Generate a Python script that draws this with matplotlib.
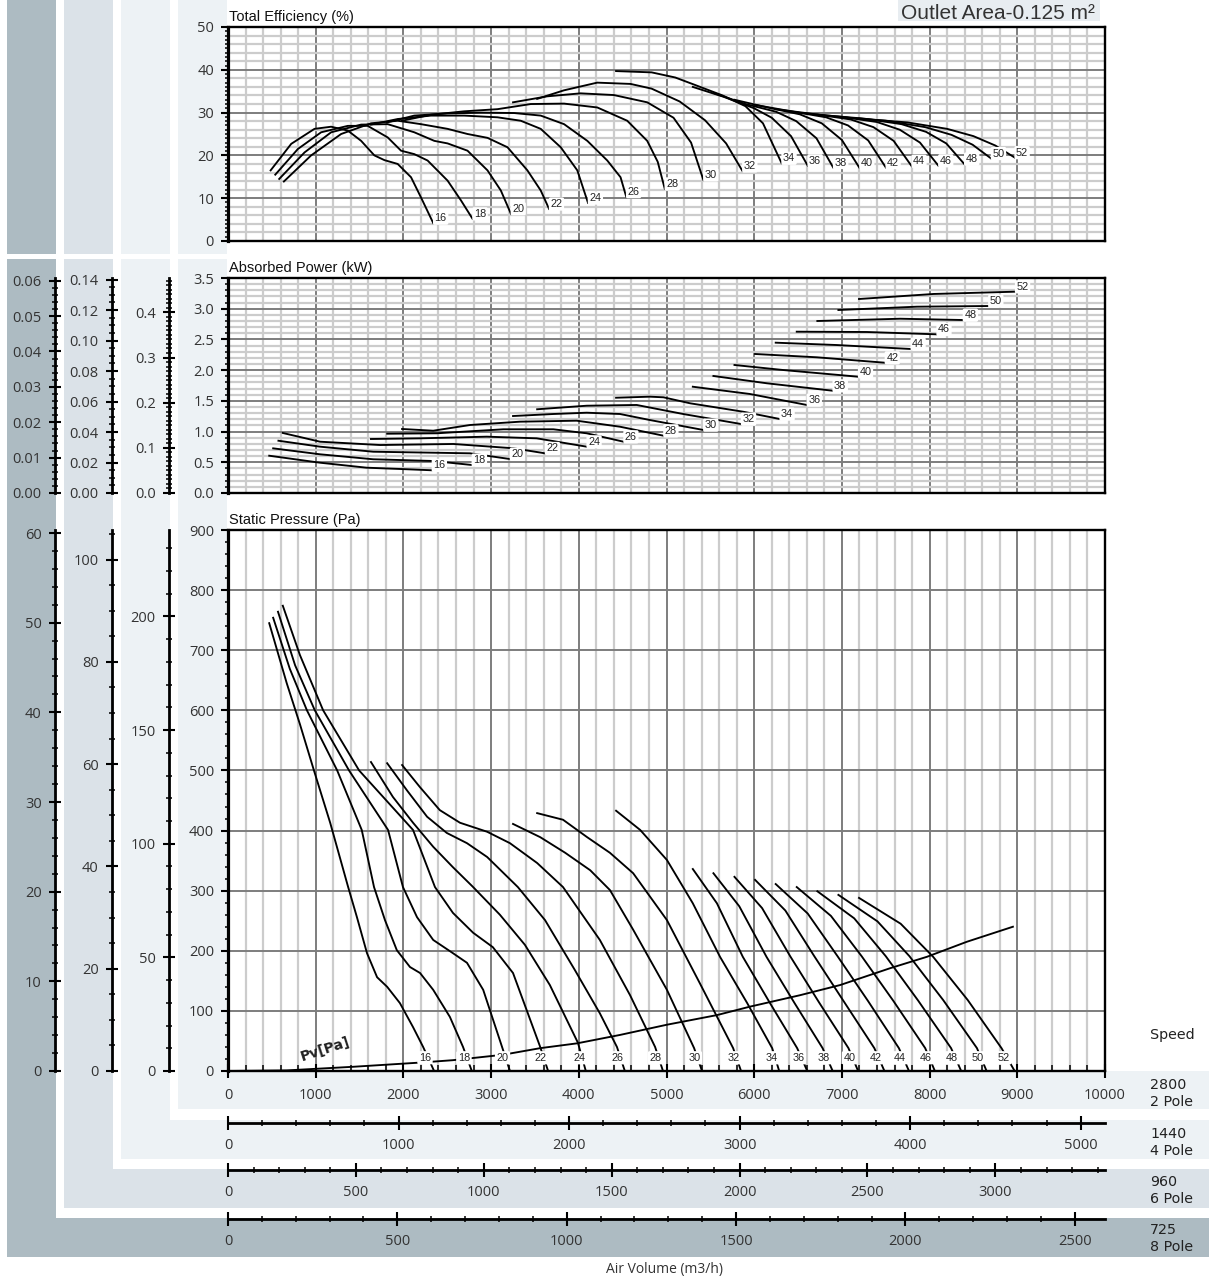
import numpy as np
import matplotlib.pyplot as plt
from matplotlib.patches import Rectangle
from matplotlib.ticker import MultipleLocator, FormatStrFormatter

# blade angle of every curve
angles = [16, 18, 20, 22, 24, 26, 28, 30, 32, 34, 36, 38, 40, 42, 44, 46, 48, 50, 52]

# Total efficiency (%) -- (air volume m3/h @ 2800 rpm, efficiency)
eff_16 = [(486, 16.5), (721, 22.7), (986, 26.2), (1176, 26.7), (1366, 25.8), (1518, 23.4), (1669, 20.0),
          (1783, 18.9), (1935, 18.0), (2087, 14.9), (2200, 10.2), (2340, 4.2)]
eff_18 = [(539, 15.5), (797, 21.5), (1062, 25.4), (1366, 26.9), (1593, 26.9), (1821, 24.2), (1973, 21.1),
          (2124, 20.3), (2276, 18.8), (2504, 14.1), (2656, 9.5), (2788, 5.2)]
eff_20 = [(584, 14.5), (873, 20.7), (1176, 25.4), (1518, 27.2), (1821, 27.3), (2124, 25.4), (2352, 23.4),
          (2504, 22.8), (2731, 21.1), (2959, 16.5), (3111, 11.8), (3225, 6.4)]
eff_22 = [(637, 13.9), (948, 20.0), (1290, 25.0), (1631, 27.5), (1935, 28.1), (2200, 27.3), (2504, 26.2),
          (2731, 25.0), (2959, 24.1), (3187, 21.9), (3414, 16.5), (3566, 11.8), (3661, 7.5)]
eff_24 = [(1631, 27.2), (1935, 28.5), (2314, 29.3), (2693, 29.3), (3073, 28.9), (3338, 28.1), (3566, 26.2),
          (3794, 21.9), (3983, 16.5), (4105, 8.9)]
eff_26 = [(1813, 27.7), (2124, 29.3), (2504, 29.8), (2883, 30.0), (3262, 29.9), (3566, 29.3), (3832, 27.3),
          (4097, 23.4), (4325, 18.8), (4476, 14.9), (4540, 10.4)]
eff_28 = [(1984, 28.1), (2314, 29.5), (2693, 30.3), (3073, 30.8), (3452, 32.0), (3832, 32.1), (4211, 31.2),
          (4552, 28.1), (4780, 23.4), (4900, 18.5), (4980, 12.2)]
eff_30 = [(3250, 32.4), (3640, 33.8), (4020, 34.5), (4400, 34.1), (4780, 32.4), (5080, 28.8), (5280, 23.0),
          (5420, 14.3)]
eff_32 = [(3525, 33.2), (3830, 35.2), (4210, 37.0), (4590, 36.7), (4830, 35.6), (5150, 32.6), (5440, 28.2),
          (5680, 22.8), (5865, 16.4)]
eff_34 = [(4425, 39.7), (4830, 39.4), (5100, 38.2), (5320, 36.5), (5640, 34.0), (5900, 31.5), (6100, 27.5),
          (6312, 18.2)]
eff_36 = [(5300, 36.0), (5650, 33.7), (6000, 31.0), (6200, 28.8), (6420, 24.5), (6610, 17.6)]
eff_38 = [(5535, 34.6), (5900, 32.0), (6250, 30.2), (6480, 28.0), (6710, 24.0), (6900, 17.2)]
eff_40 = [(5775, 33.0), (6150, 31.2), (6520, 29.6), (6770, 27.5), (7000, 23.6), (7200, 17.1)]
eff_42 = [(6010, 31.8), (6450, 30.2), (6820, 28.9), (7070, 27.0), (7300, 23.5), (7500, 17.2)]
eff_44 = [(6245, 30.8), (6700, 29.6), (7100, 28.4), (7360, 26.6), (7590, 23.4), (7795, 17.5)]
eff_46 = [(6485, 30.0), (7000, 29.0), (7400, 27.8), (7660, 26.0), (7890, 23.0), (8100, 17.6)]
eff_48 = [(6720, 29.5), (7250, 28.6), (7680, 27.3), (7960, 25.5), (8190, 22.8), (8395, 18.0)]
eff_50 = [(6960, 29.0), (7500, 28.1), (7950, 26.6), (8250, 24.8), (8490, 22.5), (8700, 19.3)]
eff_52 = [(7195, 28.6), (7750, 27.7), (8200, 26.2), (8500, 24.5), (8750, 22.3), (8970, 19.5)]

# Absorbed power (kW)
pow_16 = [(470, 0.607), (1050, 0.493), (1580, 0.412), (1960, 0.391), (2325, 0.370)]
pow_18 = [(515, 0.727), (1050, 0.630), (1655, 0.549), (2340, 0.521), (2780, 0.456)]
pow_20 = [(575, 0.851), (1050, 0.754), (1655, 0.672), (2760, 0.646), (3215, 0.553)]
pow_22 = [(625, 0.977), (1050, 0.835), (1735, 0.781), (2570, 0.798), (3255, 0.728), (3615, 0.646)]
pow_24 = [(1630, 0.879), (2190, 0.890), (2950, 0.917), (3520, 0.890), (4090, 0.754)]
pow_26 = [(1815, 0.965), (2380, 0.972), (3140, 1.037), (3710, 1.037), (4090, 0.972), (4510, 0.835)]
pow_28 = [(1985, 1.042), (2340, 1.014), (2760, 1.107), (3330, 1.161), (3975, 1.177), (4470, 1.079), (4965, 0.933)]
pow_30 = [(3250, 1.253), (3710, 1.286), (4090, 1.307), (4470, 1.286), (4810, 1.188), (5420, 1.026)]
pow_32 = [(3525, 1.363), (4090, 1.421), (4660, 1.433), (5190, 1.286), (5850, 1.123)]
pow_34 = [(4425, 1.551), (4810, 1.568), (4965, 1.558), (5270, 1.460), (5875, 1.323), (6290, 1.205)]
pow_36 = [(5300, 1.730), (5950, 1.612), (6600, 1.433)]
pow_38 = [(5535, 1.905), (6145, 1.786), (6895, 1.665)]
pow_40 = [(5775, 2.084), (6330, 2.002), (7185, 1.893)]
pow_42 = [(6010, 2.263), (6715, 2.209), (7490, 2.121)]
pow_44 = [(6245, 2.447), (6940, 2.409), (7785, 2.344)]
pow_46 = [(6485, 2.626), (7285, 2.621), (8080, 2.583)]
pow_48 = [(6720, 2.800), (7665, 2.837), (8380, 2.816)]
pow_50 = [(6960, 2.979), (7855, 3.033), (8670, 3.044)]
pow_52 = [(7195, 3.158), (8045, 3.240), (8975, 3.277)]

# Static pressure (Pa)
pres_16 = [(470, 745), (670, 645), (820, 577), (980, 500), (1165, 413), (1370, 306), (1470, 256), (1585, 196),
           (1700, 156), (1815, 140), (1960, 113), (2110, 73), (2225, 40), (2350, 0)]
pres_18 = [(515, 754), (705, 669), (900, 600), (1245, 500), (1525, 401), (1665, 306), (1790, 251), (1925, 201),
           (2075, 173), (2190, 163), (2340, 135), (2530, 90), (2680, 40), (2780, 0)]
pres_20 = [(570, 764), (765, 675), (990, 600), (1380, 500), (1825, 401), (1995, 306), (2155, 256), (2340, 218),
           (2565, 196), (2725, 180), (2910, 135), (3125, 40), (3215, 0)]
pres_22 = [(625, 774), (820, 692), (1085, 600), (1495, 500), (2110, 401), (2360, 306), (2565, 263), (2795, 230),
           (3020, 206), (3250, 163), (3560, 40), (3650, 0)]
pres_24 = [(1630, 514), (1880, 456), (2110, 413), (2340, 373), (2565, 339), (2795, 306), (3100, 260), (3385, 210),
           (3670, 143), (3990, 47), (4080, 0)]
pres_26 = [(1815, 512), (2040, 467), (2270, 423), (2495, 396), (2725, 379), (2955, 356), (3305, 306), (3615, 251),
           (3955, 168), (4240, 96), (4435, 40), (4525, 0)]
pres_28 = [(1985, 509), (2190, 472), (2415, 434), (2645, 413), (2955, 398), (3215, 379), (3525, 346), (3820, 306),
           (4240, 218), (4585, 126), (4870, 40), (4960, 0)]
pres_30 = [(3250, 411), (3560, 389), (3845, 363), (4130, 334), (4355, 301), (4620, 235), (5005, 135), (5315, 38),
           (5405, 0)]
pres_32 = [(3525, 429), (3820, 418), (4095, 389), (4355, 363), (4620, 329), (5005, 251), (5380, 146), (5760, 38),
           (5850, 0)]
pres_34 = [(4425, 433), (4700, 401), (5005, 351), (5300, 279), (5610, 190), (5920, 113), (6205, 38), (6285, 0)]
pres_36 = [(5300, 336), (5575, 279), (5870, 190), (6180, 113), (6490, 38), (6605, 0)]
pres_38 = [(5535, 329), (5830, 274), (6140, 190), (6460, 113), (6780, 38), (6895, 0)]
pres_40 = [(5775, 323), (6090, 271), (6410, 191), (6740, 114), (7075, 38), (7185, 0)]
pres_42 = [(6010, 318), (6355, 267), (6685, 191), (7025, 115), (7370, 38), (7485, 0)]
pres_44 = [(6245, 311), (6610, 262), (6950, 191), (7300, 116), (7650, 38), (7765, 0)]
pres_46 = [(6485, 306), (6875, 258), (7225, 191), (7585, 117), (7950, 38), (8060, 0)]
pres_48 = [(6720, 299), (7140, 254), (7500, 191), (7870, 117), (8245, 38), (8360, 0)]
pres_50 = [(6960, 293), (7405, 249), (7770, 191), (8155, 118), (8540, 38), (8650, 0)]
pres_52 = [(7195, 288), (7670, 245), (8040, 190), (8435, 118), (8820, 38), (8970, 0)]

# dynamic pressure line
pv_line = [(0, 0), (670, 1), (1425, 7), (2190, 14), (2565, 18), (3135, 27), (3560, 38), (3980, 46), (4470, 60),
           (5005, 77), (5575, 93), (5950, 107), (6520, 126), (6980, 143), (7550, 171), (7970, 190), (8425, 215),
           (8950, 240)]

speeds = [2800, 1440, 960, 725]
poles = ["2 Pole", "4 Pole", "6 Pole", "8 Pole"]

eff_curves = [eff_16, eff_18, eff_20, eff_22, eff_24, eff_26, eff_28, eff_30, eff_32, eff_34,
              eff_36, eff_38, eff_40, eff_42, eff_44, eff_46, eff_48, eff_50, eff_52]
pow_curves = [pow_16, pow_18, pow_20, pow_22, pow_24, pow_26, pow_28, pow_30, pow_32, pow_34,
              pow_36, pow_38, pow_40, pow_42, pow_44, pow_46, pow_48, pow_50, pow_52]
pres_curves = [pres_16, pres_18, pres_20, pres_22, pres_24, pres_26, pres_28, pres_30, pres_32, pres_34,
               pres_36, pres_38, pres_40, pres_42, pres_44, pres_46, pres_48, pres_50, pres_52]

plt.rcParams['font.family'] = ['Open Sans', 'DejaVu Sans']

W, H = 1209, 1279
fig = plt.figure(figsize=(W / 100, H / 100), dpi=100)


def rect(x0, y0, x1, y1):
    # pixel box, origin top-left -> figure fraction
    return [x0 / W, 1 - y1 / H, (x1 - x0) / W, (y1 - y0) / H]


def panel(x0, y0, x1, y1, color):
    l, b, w, h = rect(x0, y0, x1, y1)
    fig.add_artist(Rectangle((l, b), w, h, transform=fig.transFigure,
                             fc=color, ec='none', zorder=-5))


dark, mid, light = '#adbbc2', '#dbe2e8', '#edf2f5'
panel(7, 0, W, 1257, dark)
panel(56, 0, W, 1218, 'white')
panel(64, 0, W, 1208, mid)
panel(113, 0, W, 1169, 'white')
panel(121, 0, W, 1159, light)
panel(170, 0, W, 1120, 'white')
panel(178, 0, W, 1109, light)
panel(227, 0, W, 1071, 'white')
panel(0, 254, 227, 259, 'white')
panel(898, 0, 1100, 21, '#e8edf1')

grid_light = '#cccccc'
grid_dark = '#7d7d7d'
tick_col = '#333333'
tick_size = 10.5


def chart(y0, y1, top, ymaj, ymin_tick, ygrid_minor, fmt):
    ax = fig.add_axes(rect(228, y0, 1105, y1))
    ax.set_xlim(0, 10000)
    ax.set_ylim(0, top)
    ax.set_axisbelow(True)
    ax.xaxis.set_major_locator(MultipleLocator(1000))
    ax.xaxis.set_minor_locator(MultipleLocator(200))
    ax.yaxis.set_major_locator(MultipleLocator(ymaj))
    ax.yaxis.set_minor_locator(MultipleLocator(ymin_tick))
    ax.yaxis.set_major_formatter(FormatStrFormatter(fmt))
    ax.grid(axis='x', which='minor', color=grid_light, lw=1.6)
    ax.grid(axis='x', which='major', color=grid_dark, lw=1.4)
    if ygrid_minor:
        for v in np.arange(ygrid_minor, top, ygrid_minor):
            if not np.isclose(v / ymaj, round(v / ymaj)):
                ax.axhline(v, color=grid_light, lw=1.6, zorder=1)
    for v in np.arange(ymaj, top - 1e-9, ymaj):
        ax.axhline(v, color=grid_dark, lw=1.4, zorder=1.1)
    for s in ax.spines.values():
        s.set_linewidth(1.7)
        s.set_zorder(5)
    ax.spines['left'].set_linewidth(2.3)
    ax.tick_params(axis='y', which='major', direction='out', length=5, width=1.5,
                   labelsize=tick_size, labelcolor=tick_col, pad=5)
    ax.tick_params(axis='y', which='minor', direction='out', length=2.5, width=1.1)
    ax.tick_params(axis='x', which='both', length=0, labelbottom=False)
    return ax


ax_e = chart(27, 241, 50, 10, 1, 2, '%d')
ax_p = chart(278, 493, 3.5, 0.5, 0.1, 0.1, '%.1f')
ax_s = chart(530, 1071, 900, 100, 20, None, '%d')

ax_s.tick_params(axis='x', which='major', direction='inout', length=10, width=1.5,
                 labelbottom=True, labelsize=tick_size, labelcolor=tick_col, pad=7)
ax_s.tick_params(axis='x', which='minor', direction='in', length=4, width=1.1)
ax_s.xaxis.set_major_formatter(FormatStrFormatter('%d'))

title_font = dict(family='Liberation Sans', fontsize=10.5, color='#111111')
fig.text(229 / W, 1 - 21 / H, 'Total Efficiency (%)', **title_font)
fig.text(229 / W, 1 - 272 / H, 'Absorbed Power (kW)', **title_font)
fig.text(229 / W, 1 - 524 / H, 'Static Pressure (Pa)', **title_font)
fig.text(1095 / W, 1 - 19 / H, 'Outlet Area-0.125 m²', family='Liberation Sans',
         fontsize=15, color='#333333', ha='right')

lab_box = dict(boxstyle='round,pad=0.15', fc='white', ec='none')
lab_font = dict(family='Liberation Sans', fontsize=7.8, color='#222222')

for ang, pts in zip(angles, eff_curves):
    q, v = np.array(pts, dtype=float).T
    ax_e.plot(q, v, color='black', lw=1.35, zorder=3)
    ax_e.annotate(str(ang), (q[-1], v[-1]), xytext=(1, 3.5), textcoords='offset points',
                  ha='left', va='center', bbox=lab_box, zorder=4, **lab_font)

for ang, pts in zip(angles, pow_curves):
    q, v = np.array(pts, dtype=float).T
    ax_p.plot(q, v, color='black', lw=1.35, zorder=3)
    ax_p.annotate(str(ang), (q[-1], v[-1]), xytext=(1, 3.5), textcoords='offset points',
                  ha='left', va='center', bbox=lab_box, zorder=4, **lab_font)

for ang, pts in zip(angles, pres_curves):
    q, v = np.array(pts, dtype=float).T
    ax_s.plot(q, v, color='black', lw=1.35, zorder=3)
    xl = np.interp(22, v[::-1], q[::-1])
    ax_s.text(xl - 35, 22, str(ang), ha='center', va='center', bbox=lab_box, zorder=4, **lab_font)

pq, pp = np.array(pv_line, dtype=float).T
ax_s.plot(pq, pp, color='black', lw=1.35, zorder=3)
ax_s.text(1110, 36, 'Pv[Pa]', rotation=18, ha='center', va='center', fontsize=10,
          fontweight='bold', family='DejaVu Sans', color='#222222', zorder=4)


def side_axis(x_px, y0, y1, top, major, minor, fmt):
    ax = fig.add_axes(rect(x_px - 1, y0, x_px, y1))
    ax.set_ylim(0, top)
    ax.patch.set_visible(False)
    for s in ['right', 'top', 'bottom']:
        ax.spines[s].set_visible(False)
    ax.spines['left'].set_linewidth(2)
    ax.set_xticks([])
    ax.yaxis.set_major_locator(MultipleLocator(major))
    ax.yaxis.set_minor_locator(MultipleLocator(minor))
    ax.yaxis.set_major_formatter(FormatStrFormatter(fmt))
    ax.tick_params(axis='y', which='major', direction='inout', length=9, width=1.5,
                   labelsize=tick_size, labelcolor=tick_col, pad=5)
    ax.tick_params(axis='y', which='minor', direction='inout', length=4, width=1.1)
    return ax


# power scales at lower speeds (fan law, cube) and pressure (square)
side_x = {1440: 170, 960: 113, 725: 56}
pow_fmt = {1440: ('%.1f', 0.1, 0.01), 960: ('%.2f', 0.02, 0.005), 725: ('%.2f', 0.01, 0.002)}
pres_fmt = {1440: ('%d', 50, 10), 960: ('%d', 20, 5), 725: ('%d', 10, 2)}
for n in speeds[1:]:
    f, ma, mi = pow_fmt[n]
    side_axis(side_x[n], 278, 493, 3.5 * (n / 2800) ** 3, ma, mi, f)
    f, ma, mi = pres_fmt[n]
    side_axis(side_x[n], 530, 1071, 900 * (n / 2800) ** 2, ma, mi, f)


def bottom_axis(y_px, top, major, minor):
    ax = fig.add_axes(rect(228, y_px, 1105, y_px + 1))
    ax.set_xlim(0, top)
    ax.patch.set_visible(False)
    for s in ['left', 'right', 'top']:
        ax.spines[s].set_visible(False)
    ax.spines['bottom'].set_linewidth(2)
    ax.set_yticks([])
    ax.xaxis.set_major_locator(MultipleLocator(major))
    ax.xaxis.set_minor_locator(MultipleLocator(minor))
    ax.xaxis.set_major_formatter(FormatStrFormatter('%d'))
    ax.tick_params(axis='x', which='major', direction='inout', length=10, width=1.5,
                   labelsize=tick_size, labelcolor=tick_col, pad=6)
    ax.tick_params(axis='x', which='minor', direction='inout', length=5, width=1.1)
    return ax


bottom_axis(1122, 10000 * 1440 / 2800, 1000, 200)
bottom_axis(1169, 10000 * 960 / 2800, 500, 100)
bottom_axis(1218, 10000 * 725 / 2800, 500, 100)

right_font = dict(family='DejaVu Sans', fontsize=10.3, color='#222222')
fig.text(1150 / W, 1 - 1039 / H, 'Speed', **right_font)
for n, pole, yb in zip(speeds, poles, [1089, 1138, 1186, 1234]):
    fig.text(1150 / W, 1 - yb / H, str(n), **right_font)
    fig.text(1150 / W, 1 - (yb + 17) / H, pole, **right_font)

fig.text(665 / W, 1 - 1273 / H, 'Air Volume (m3/h)', ha='center', fontsize=10, color='#333333')

fig.savefig('out.png', dpi=100)
